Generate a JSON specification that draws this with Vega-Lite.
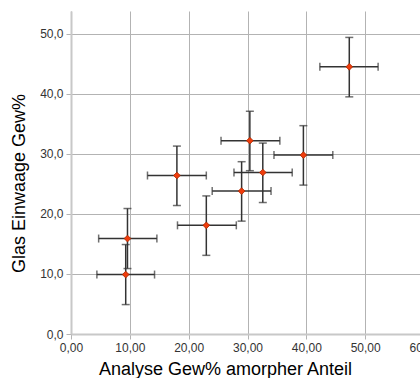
{
  "$schema": "https://vega.github.io/schema/vega-lite/v6.json",
  "width": 353,
  "height": 323,
  "autosize": "none",
  "padding": {"left": 71, "top": 11, "right": -4, "bottom": 44},
  "background": "white",
  "config": {
    "locale": {"number": {"decimal": ",", "thousands": ".", "grouping": [3], "currency": ["", " €"]}},
    "view": {"stroke": null},
    "font": "Liberation Sans"
  },
  "data": {
    "values": [
      {"x": 9.3, "y": 9.9, "xlo": 4.4, "xhi": 14.2, "ylo": 4.9, "yhi": 14.9},
      {"x": 9.6, "y": 15.9, "xlo": 4.7, "xhi": 14.6, "ylo": 10.9, "yhi": 20.9},
      {"x": 18.0, "y": 26.4, "xlo": 13.0, "xhi": 23.0, "ylo": 21.4, "yhi": 31.3},
      {"x": 23.0, "y": 18.1, "xlo": 18.1, "xhi": 28.1, "ylo": 13.1, "yhi": 23.0},
      {"x": 29.0, "y": 23.8, "xlo": 24.0, "xhi": 34.0, "ylo": 18.8, "yhi": 28.7},
      {"x": 30.4, "y": 32.2, "xlo": 25.5, "xhi": 35.5, "ylo": 27.2, "yhi": 37.1},
      {"x": 32.6, "y": 26.9, "xlo": 27.7, "xhi": 37.6, "ylo": 21.9, "yhi": 31.8},
      {"x": 39.5, "y": 29.8, "xlo": 34.5, "xhi": 44.5, "ylo": 24.8, "yhi": 34.7},
      {"x": 47.3, "y": 44.5, "xlo": 42.3, "xhi": 52.2, "ylo": 39.5, "yhi": 49.4}
    ]
  },
  "layer": [
    {
      "mark": {"type": "errorbar", "ticks": {"size": 8, "color": "#333", "strokeWidth": 1.5}, "color": "#333", "thickness": 1.5},
      "encoding": {
        "x": {"field": "xlo", "type": "quantitative", "scale": {"domain": [0, 60], "nice": false, "zero": false},
          "axis": {
            "title": "Analyse Gew% amorpher Anteil",
            "values": [0,5,10,15,20,25,30,35,40,45,50,55,60],
            "format": ".2f",
            "labelExpr": "datum.value % 10 === 0 ? datum.label : ''",
            "labelFont": "Liberation Sans", "labelFontSize": 12, "labelColor": "#333",
            "labelFlush": false, "labelOverlap": false, "labelBound": false,
            "labelPadding": 3,
            "tickSize": 5, "tickColor": {"condition": {"test": "datum.value % 10 === 0", "value": "#b3b3b3"}, "value": "transparent"},
            "grid": true,
            "gridColor": {"condition": {"test": "datum.value % 10 === 0", "value": "#b3b3b3"}, "value": "#e3e3e3"},
            "gridWidth": 1,
            "domainColor": "#c8c8c8", "domainWidth": 2,
            "titleFont": "Liberation Sans", "titleFontSize": 18, "titleFontWeight": "normal", "titleColor": "#000",
            "titleAnchor": "start", "titleAlign": "center", "titleX": 154, "titleY": 40, "titleBaseline": "alphabetic"
          }},
        "x2": {"field": "xhi"},
        "y": {"field": "y", "type": "quantitative"}
      }
    },
    {
      "mark": {"type": "errorbar", "ticks": {"size": 8, "color": "#333", "strokeWidth": 1.5}, "color": "#333", "thickness": 1.5},
      "encoding": {
        "y": {"field": "ylo", "type": "quantitative", "scale": {"domain": [0, 53.8], "nice": false, "zero": false},
          "axis": {
            "title": "Glas Einwaage Gew%",
            "values": [0,5,10,15,20,25,30,35,40,45,50],
            "format": ".1f",
            "labelExpr": "datum.value % 10 === 0 ? datum.label : ''",
            "labelFont": "Liberation Sans", "labelFontSize": 12, "labelColor": "#333",
            "labelFlush": false, "labelOverlap": false,
            "labelPadding": 3,
            "tickSize": 5, "tickColor": {"condition": {"test": "datum.value % 10 === 0", "value": "#b3b3b3"}, "value": "transparent"},
            "grid": true,
            "gridColor": {"condition": {"test": "datum.value % 10 === 0", "value": "#b3b3b3"}, "value": "#e3e3e3"},
            "gridWidth": 1,
            "domainColor": "#c8c8c8", "domainWidth": 2,
            "titleFont": "Liberation Sans", "titleFontSize": 18, "titleFontWeight": "normal", "titleColor": "#000",
            "titleAnchor": "start", "titleAlign": "center", "titleAngle": -90, "titleX": -47, "titleY": 172, "titleBaseline": "alphabetic"
          }},
        "y2": {"field": "yhi"},
        "x": {"field": "x", "type": "quantitative"}
      }
    },
    {
      "mark": {"type": "point", "shape": "diamond", "filled": true, "size": 45, "color": "#f03c0c", "stroke": "#a82800", "strokeWidth": 0.8, "opacity": 1},
      "encoding": {
        "x": {"field": "x", "type": "quantitative"},
        "y": {"field": "y", "type": "quantitative"}
      }
    }
  ]
}
